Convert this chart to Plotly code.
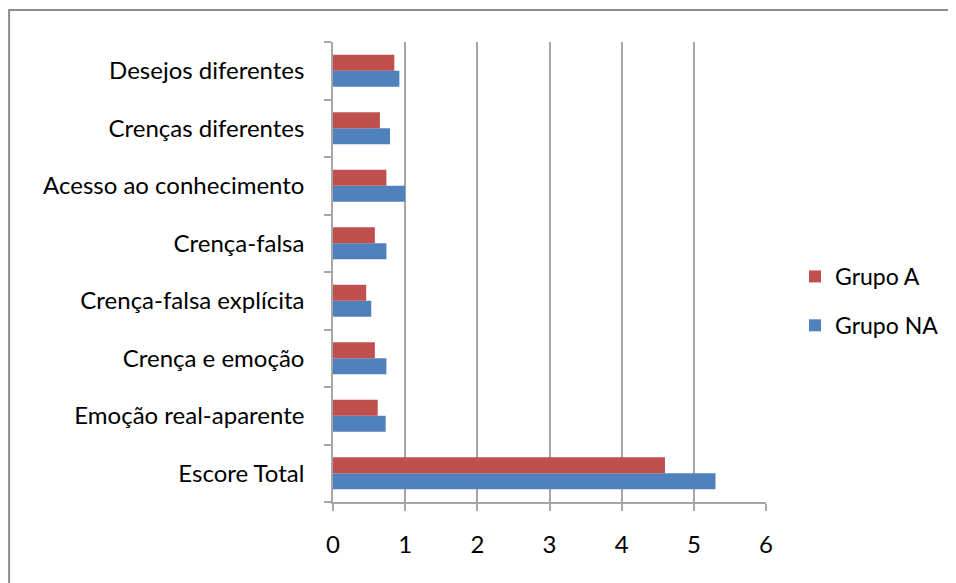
import plotly.graph_objects as go

categories = ["Escore Total", "Emoção real-aparente", "Crença e emoção",
              "Crença-falsa explícita", "Crença-falsa", "Acesso ao conhecimento",
              "Crenças diferentes", "Desejos diferentes"]
grupo_a = [4.6, 0.62, 0.58, 0.46, 0.58, 0.74, 0.65, 0.85]
grupo_na = [5.3, 0.73, 0.74, 0.53, 0.74, 1.0, 0.79, 0.92]
x_ticks = [0, 1, 2, 3, 4, 5, 6]

FONT = "Lato, Carlito, Calibri, 'Open Sans', sans-serif"

fig = go.Figure()
fig.add_trace(go.Bar(y=categories, x=grupo_na, orientation="h", name="Grupo NA",
                     legendgroup="na", legendrank=2,
                     marker=dict(color="#4F81BD", line=dict(width=0))))
fig.add_trace(go.Bar(y=categories, x=grupo_a, orientation="h", name="Grupo A",
                     legendgroup="a", legendrank=1,
                     marker=dict(color="#C0504D", line=dict(width=0))))

fig.update_layout(
    width=948, height=575,
    margin=dict(l=325, r=190, t=34, b=81),
    paper_bgcolor="white", plot_bgcolor="white",
    barmode="group", bargap=0.44, bargroupgap=0,
    font=dict(family=FONT, size=24, color="#000000"),
    legend=dict(traceorder="grouped", x=1.067, y=0.437,
                xanchor="left", yanchor="middle",
                font=dict(size=23), itemwidth=30, tracegroupgap=16,
                bgcolor="rgba(0,0,0,0)"),
    showlegend=True,
)
fig.update_xaxes(range=[0, 6], tickvals=x_ticks, ticktext=[str(v) for v in x_ticks],
                 showgrid=True, gridcolor="#A6A6A6", gridwidth=1.5,
                 showline=True, linecolor="#A6A6A6", linewidth=1.5,
                 ticks="outside", ticklen=7, tickcolor="#A6A6A6", tickwidth=1.5,
                 zeroline=False, ticklabelstandoff=13,
                 tickfont=dict(size=24))
fig.update_yaxes(type="category", categoryorder="array", categoryarray=categories,
                 range=[-0.5, 7.5], showgrid=False,
                 showline=True, linecolor="#A6A6A6", linewidth=1.5,
                 ticks="outside", ticklen=7, tickcolor="#A6A6A6", tickwidth=1.5,
                 tickson="boundaries", ticklabelstandoff=22,
                 tickfont=dict(size=24))

fig.add_shape(type="rect", xref="paper", yref="paper",
              x0=-0.748, x1=1.6, y0=-0.4, y1=1.0696,
              line=dict(color="#8C8C8C", width=2), fillcolor="rgba(0,0,0,0)", layer="below")

fig.write_html("out.html")
